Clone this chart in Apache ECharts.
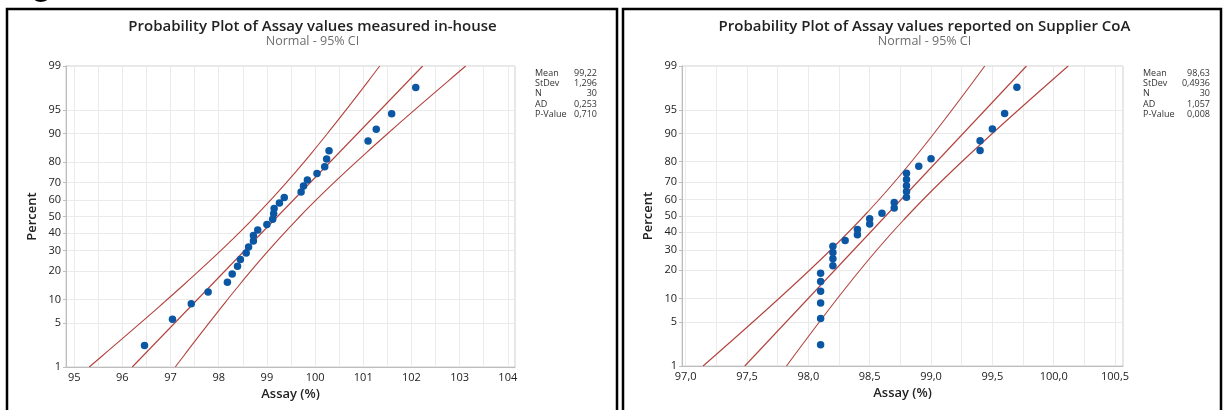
<!DOCTYPE html>
<html><head><meta charset="utf-8">
<script src="https://cdn.jsdelivr.net/npm/echarts@6/dist/echarts.min.js"></script>
<style>html,body{margin:0;padding:0;background:#fff}#c{width:1224px;height:410px}</style>
</head><body><div id="c"></div>
<script>
// ---- data ----
const percentTicks = [1, 5, 10, 20, 30, 40, 50, 60, 70, 80, 90, 95, 99];
const inHouseXTicks = [95, 96, 97, 98, 99, 100, 101, 102, 103, 104];
const supplierXTicks = [97.0, 97.5, 98.0, 98.5, 99.0, 99.5, 100.0, 100.5];
const plotPercents = [2.30, 5.59, 8.88, 12.17, 15.46, 18.75, 22.04, 25.33, 28.62, 31.91,
  35.20, 38.49, 41.78, 45.07, 48.36, 51.64, 54.93, 58.22, 61.51, 64.80,
  68.09, 71.38, 74.67, 77.96, 81.25, 84.54, 87.83, 91.12, 94.41, 97.70];
const inHouseAssay = [96.46, 97.04, 97.43, 97.78, 98.18, 98.28, 98.39, 98.45, 98.57, 98.62,
  98.72, 98.72, 98.81, 99.00, 99.12, 99.14, 99.15, 99.26, 99.36, 99.71,
  99.76, 99.84, 100.04, 100.20, 100.24, 100.29, 101.10, 101.27, 101.59, 102.09];
const supplierAssay = [98.1, 98.1, 98.1, 98.1, 98.1, 98.1, 98.2, 98.2, 98.2, 98.2,
  98.3, 98.4, 98.4, 98.5, 98.5, 98.6, 98.7, 98.7, 98.8, 98.8,
  98.8, 98.8, 98.8, 98.9, 99.0, 99.4, 99.4, 99.5, 99.6, 99.7];
const statNames = ['Mean', 'StDev', 'N', 'AD', 'P-Value'];
const inHouseStatText = ['99,22', '1,296', '30', '0,253', '0,710'];
const supplierStatText = ['98,63', '0,4936', '30', '1,057', '0,008'];
const titles = ['Probability Plot of Assay values measured in-house', 'Probability Plot of Assay values reported on Supplier CoA'];
const subtitle = 'Normal - 95% CI';

// ---- helpers ----
function probit(p) {
  const a = [-3.969683028665376e+01, 2.209460984245205e+02, -2.759285104469687e+02, 1.383577518672690e+02, -3.066479806614716e+01, 2.506628277459239e+00];
  const b = [-5.447609879822406e+01, 1.615858368580409e+02, -1.556989798598866e+02, 6.680131188771972e+01, -1.328068155288572e+01];
  const c = [-7.784894002430293e-03, -3.223964580411365e-01, -2.400758277161838e+00, -2.549732539343734e+00, 4.374664141464968e+00, 2.938163982698783e+00];
  const d = [7.784695709041462e-03, 3.224671290700398e-01, 2.445134137142996e+00, 3.754408661907416e+00];
  const pl = 0.02425;
  let q, r;
  if (p < pl) { q = Math.sqrt(-2 * Math.log(p)); return (((((c[0]*q+c[1])*q+c[2])*q+c[3])*q+c[4])*q+c[5])/((((d[0]*q+d[1])*q+d[2])*q+d[3])*q+1); }
  if (p > 1 - pl) { return -probit(1 - p); }
  q = p - 0.5; r = q * q;
  return (((((a[0]*r+a[1])*r+a[2])*r+a[3])*r+a[4])*r+a[5])*q/(((((b[0]*r+b[1])*r+b[2])*r+b[3])*r+b[4])*r+1);
}
const zTicks = percentTicks.map(p => probit(p / 100));
const zMin = zTicks[0], zMax = zTicks[zTicks.length - 1];
function pctLabel(v) {
  let best = 0;
  for (let i = 0; i < zTicks.length; i++) if (Math.abs(zTicks[i] - v) < Math.abs(zTicks[best] - v)) best = i;
  return String(percentTicks[best]);
}
const num = s => parseFloat(s.replace(',', '.'));

const RED = '#B2423C', BLUE = '#0B57A4', FONT = 'Open Sans';
const grids = [
  { left: 66, top: 66, width: 449, height: 301 },
  { left: 682, top: 66, width: 441, height: 300 }
];
const xRanges = [[94.83, 104.15], [96.97, 100.565]];
const xTickSets = [inHouseXTicks, supplierXTicks];
const gridSteps = [0.5, 0.25];
const assaySets = [inHouseAssay, supplierAssay];
const statSets = [inHouseStatText, supplierStatText];

const option = { animation: false, grid: [], xAxis: [], yAxis: [], series: [], graphic: [] };

for (let k = 0; k < 2; k++) {
  const g = grids[k];
  option.grid.push(Object.assign({ show: true, borderColor: '#CFCFCF', borderWidth: 1, backgroundColor: '#fff' }, g));
  const ticks = xTickSets[k];
  const gridVals = [];
  for (let v = ticks[0]; v <= ticks[ticks.length - 1] + 1e-9; v += gridSteps[k]) gridVals.push(+v.toFixed(3));
  option.xAxis.push({
    type: 'value', gridIndex: k, min: xRanges[k][0], max: xRanges[k][1],
    name: 'Assay (%)', nameLocation: 'middle', nameGap: 20,
    nameTextStyle: { fontFamily: FONT, fontSize: 13, fontWeight: 600, color: '#222' },
    axisLine: { show: true, onZero: false, lineStyle: { color: '#BDBDBD' } },
    axisTick: { show: false, customValues: gridVals },
    axisLabel: { customValues: ticks, fontFamily: FONT, fontSize: 11, color: '#222', margin: 5,
      formatter: k === 0 ? (v => String(Math.round(v))) : (v => v.toFixed(1).replace('.', ',')) },
    splitLine: { show: true, lineStyle: { color: '#EAEAEA', width: 1 } }
  });
  option.yAxis.push({
    type: 'value', gridIndex: k, min: zMin, max: zMax,
    name: 'Percent', nameLocation: 'middle', nameGap: 27,
    nameTextStyle: { fontFamily: FONT, fontSize: 13, fontWeight: 600, color: '#222' },
    axisLine: { show: true, onZero: false, lineStyle: { color: '#BDBDBD' } },
    axisTick: { show: true, length: 3, customValues: zTicks, lineStyle: { color: '#BDBDBD' } },
    axisLabel: { customValues: zTicks, formatter: pctLabel, fontFamily: FONT, fontSize: 11, color: '#222', margin: 5 },
    splitLine: { show: true, lineStyle: { color: '#EAEAEA', width: 1 } }
  });

  const stats = statSets[k];
  const mean = num(stats[0]), sd = num(stats[1]), n = num(stats[2]);
  const fit = [[mean + zMin * sd, zMin], [mean + zMax * sd, zMax]];
  const lo = [], hi = [];
  const steps = 80;
  for (let i = 0; i <= steps; i++) {
    const z = zMin + (zMax - zMin) * i / steps;
    const se = sd * Math.sqrt((1 + z * z / 2) / n);
    lo.push([mean + z * sd - 1.96 * se, z]);
    hi.push([mean + z * sd + 1.96 * se, z]);
  }
  const lineStyle = { color: RED, width: 1.1 };
  [lo, fit, hi].forEach(d => option.series.push({
    type: 'line', xAxisIndex: k, yAxisIndex: k, data: d, showSymbol: false, symbol: 'none',
    lineStyle, clip: true, silent: true, z: 2
  }));
  option.series.push({
    type: 'scatter', xAxisIndex: k, yAxisIndex: k, symbolSize: 7.5, z: 3,
    itemStyle: { color: BLUE, opacity: 1 },
    data: assaySets[k].map((v, i) => [v, probit(plotPercents[i] / 100)])
  });

  // titles
  const cx = g.left + g.width / 2 + 22;
  option.graphic.push({ type: 'text', x: cx, y: 19,
    style: { text: titles[k], fontFamily: FONT, fontSize: 15, fontWeight: 600, fill: '#222', align: 'center', verticalAlign: 'top' } });
  option.graphic.push({ type: 'text', x: cx, y: 35,
    style: { text: subtitle, fontFamily: FONT, fontSize: 12.5, fill: '#6E6E6E', align: 'center', verticalAlign: 'top' } });
  // stats box
  const sx = g.left + g.width + 20;
  const vx = k === 0 ? 597 : 1210;
  statNames.forEach((s, i) => {
    option.graphic.push({ type: 'text', x: sx, y: 69 + i * 10.2,
      style: { text: s, fontFamily: FONT, fontSize: 9, fill: '#333', align: 'left', verticalAlign: 'top' } });
    option.graphic.push({ type: 'text', x: vx, y: 69 + i * 10.2,
      style: { text: stats[i], fontFamily: FONT, fontSize: 9, fill: '#333', align: 'right', verticalAlign: 'top' } });
  });
}
// panel frames
option.graphic.push({ type: 'rect', shape: { x: 7, y: 9, width: 610, height: 430 }, style: { fill: 'none', stroke: '#000', lineWidth: 2.5 }, z: 100 });
option.graphic.push({ type: 'rect', shape: { x: 623, y: 9, width: 598, height: 430 }, style: { fill: 'none', stroke: '#000', lineWidth: 2.5 }, z: 100 });
// cropped caption above the panels (only the descender shows)
option.graphic.push({ type: 'text', x: 11, y: 1, style: { text: 'Fig', fontFamily: FONT, fontSize: 28, fontWeight: 600, fill: '#000', align: 'left', verticalAlign: 'bottom' }, z: 100 });

const chart = echarts.init(document.getElementById('c'), null, { renderer: 'canvas' });
chart.setOption(option);
</script>
</body></html>
